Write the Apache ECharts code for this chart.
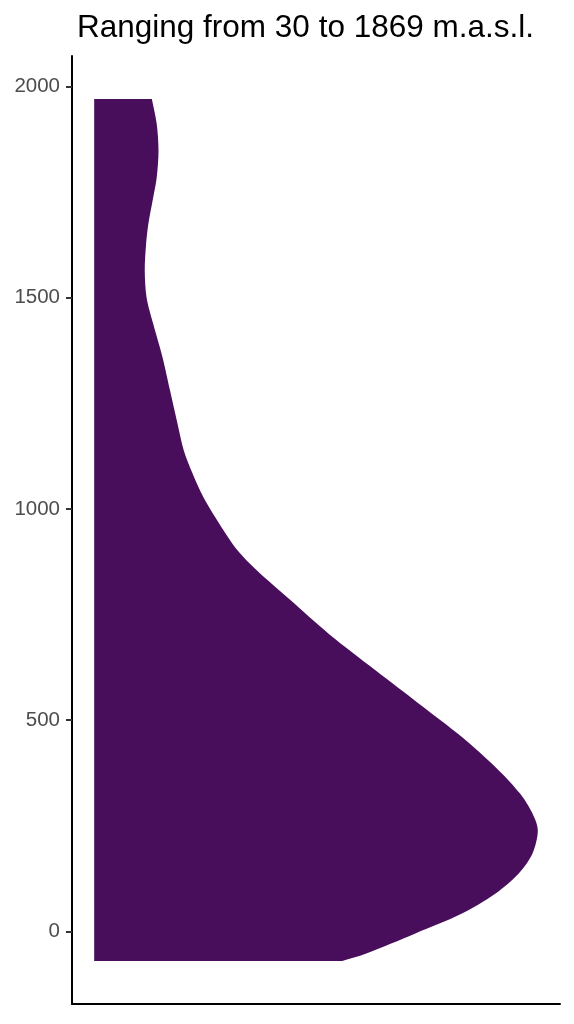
<!DOCTYPE html>
<html>
<head>
<meta charset="utf-8">
<script src="https://cdn.jsdelivr.net/npm/echarts@6/dist/echarts.min.js"></script>
<style>html,body{margin:0;padding:0;background:#fff;}#main{width:574px;height:1024px;}</style>
</head>
<body>
<div id="main"></div>
<script>
// Elevation (m.a.s.l.), bottom to top, and relative density at each elevation
var elevation = [-70, -53, -5, 42, 89, 137, 184, 239, 279, 326, 381, 460, 539, 618, 704, 787, 854, 902, 965, 1028, 1083, 1138, 1201, 1280, 1359, 1438, 1501, 1564, 1627, 1674, 1737, 1785, 1848, 1911, 1970];
var density = [0.559, 0.612, 0.724, 0.829, 0.904, 0.957, 0.988, 1.000, 0.988, 0.960, 0.912, 0.829, 0.732, 0.634, 0.529, 0.439, 0.367, 0.323, 0.282, 0.246, 0.222, 0.202, 0.188, 0.171, 0.154, 0.133, 0.118, 0.114, 0.117, 0.122, 0.133, 0.141, 0.145, 0.141, 0.130];
var yTicks = [0, 500, 1000, 1500, 2000];
var titleText = 'Ranging from 30 to 1869 m.a.s.l.';

var points = elevation.map(function (e, i) { return [density[i], e]; });

var chart = echarts.init(document.getElementById('main'), null, {renderer: 'canvas'});
chart.setOption({
  backgroundColor: '#ffffff',
  animation: false,
  title: {
    text: titleText,
    left: 72, top: 7,
    textStyle: {fontFamily: 'Liberation Sans, Arial, sans-serif', fontSize: 31.5, fontWeight: 'normal', color: '#000'}
  },
  grid: {left: 72, right: 14, top: 56, bottom: 20, containLabel: false},
  xAxis: {
    type: 'value', min: -0.05, max: 1.05,
    axisLine: {show: true, onZero: false, lineStyle: {color: '#000', width: 2}},
    axisTick: {show: false}, axisLabel: {show: false}, splitLine: {show: false}
  },
  yAxis: {
    type: 'value', min: -172, max: 2072,
    axisLine: {show: true, onZero: false, lineStyle: {color: '#000', width: 2}},
    axisTick: {show: true, length: 6, customValues: yTicks, lineStyle: {color: '#333', width: 2}},
    axisLabel: {
      show: true, customValues: yTicks, margin: 12,
      formatter: function (v) { return String(v); },
      fontFamily: 'Liberation Sans, Arial, sans-serif', fontSize: 20.5, color: '#4d4d4d'
    },
    splitLine: {show: false}
  },
  series: [{
    type: 'custom',
    data: points,
    encode: {x: 0, y: 1},
    renderItem: function (params, api) {
      if (params.dataIndex !== 0) return null;
      var n = points.length;
      var bl = api.coord([0, elevation[0]]);
      var tl = api.coord([0, elevation[n - 1]]);
      var pts = [bl, bl];
      var first = api.coord(points[0]);
      pts.push(first, first);
      for (var i = 1; i < n - 1; i++) pts.push(api.coord(points[i]));
      var last = api.coord(points[n - 1]);
      pts.push(last, last, tl, tl);
      return {type: 'polygon', shape: {points: pts, smooth: 0.3}, style: {fill: '#480e5c', stroke: null}};
    }
  }]
});
</script>
</body>
</html>
